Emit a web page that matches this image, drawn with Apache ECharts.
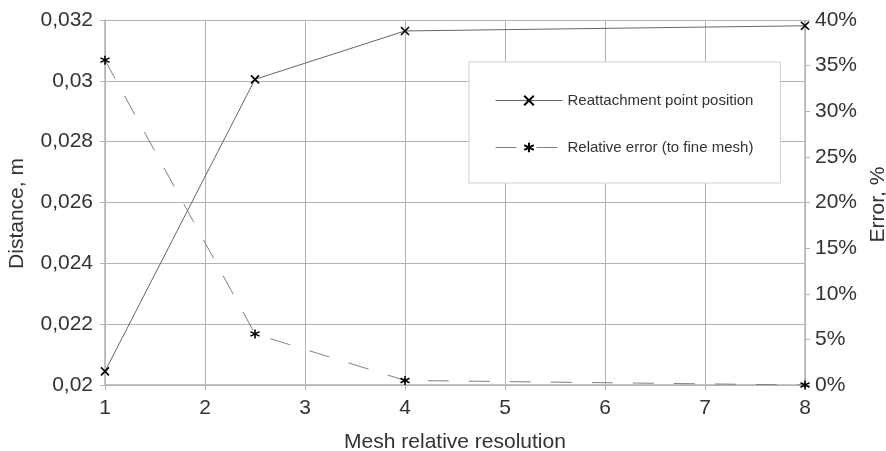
<!DOCTYPE html>
<html>
<head>
<meta charset="utf-8">
<script src="https://cdn.jsdelivr.net/npm/echarts@6/dist/echarts.min.js"></script>
<style>html,body{margin:0;padding:0;background:#fff}#c{width:886px;height:451px}</style>
</head>
<body>
<div id="c"></div>
<script>
const meshRes = [1, 2.5, 4, 8];
const distance = [0.02045, 0.03005, 0.03164, 0.03181];
const errorPct = [35.6, 5.6, 0.5, 0];
const seriesNames = ['Reattachment point position', 'Relative error (to fine mesh)'];
const xTitle = 'Mesh relative resolution';
const yLeftTitle = 'Distance, m';
const yRightTitle = 'Error, %';

const FONT = '"Liberation Sans", Arial, sans-serif';
const TXT = '#333';
const GRID = '#b3b3b3';

const chart = echarts.init(document.getElementById('c'), null, {renderer: 'canvas'});
const crossSym = 'path://M0,0L10,10M10,0L0,10';
const starSym = 'path://M5,0L5,10M0,2.5L10,7.5M0,7.5L10,2.5';

chart.setOption({
  animation: false,
  backgroundColor: '#fff',
  grid: {left: 105, right: 81, top: 20, bottom: 66, containLabel: false, outerBoundsMode: 'none'},
  legend: {
    orient: 'vertical',
    left: 469, top: 62,
    padding: [31, 27, 28, 26],
    itemGap: 32,
    itemWidth: 67, itemHeight: 12,
    backgroundColor: '#fff',
    borderColor: '#d0d0d0', borderWidth: 1,
    lineStyle: {width: 1},
    textStyle: {fontFamily: FONT, fontSize: 15, color: TXT},
    data: seriesNames
  },
  xAxis: {
    type: 'value', min: 1, max: 8, interval: 1,
    name: xTitle, nameLocation: 'middle', nameGap: 47,
    nameTextStyle: {fontFamily: FONT, fontSize: 21, color: TXT},
    axisLine: {show: true, lineStyle: {color: GRID, width: 1.5}},
    axisTick: {show: true, length: 5, lineStyle: {color: GRID}},
    axisLabel: {fontFamily: FONT, fontSize: 21, color: TXT, margin: 13},
    splitLine: {show: true, lineStyle: {color: GRID, width: 1}}
  },
  yAxis: [{
    type: 'value', min: 0.02, max: 0.032, interval: 0.002,
    name: yLeftTitle, nameLocation: 'middle', nameGap: 77, nameRotate: 90,
    nameTextStyle: {fontFamily: FONT, fontSize: 21, color: TXT, padding: [0, 22, 0, 0]},
    axisLine: {show: true, lineStyle: {color: GRID, width: 1.5}},
    axisTick: {show: true, length: 5, lineStyle: {color: GRID}},
    axisLabel: {fontFamily: FONT, fontSize: 21, color: TXT, margin: 12,
      formatter: v => String(+v.toFixed(4)).replace('.', ',')},
    splitLine: {show: true, lineStyle: {color: GRID, width: 1}}
  }, {
    type: 'value', min: 0, max: 40, interval: 5, position: 'right',
    name: yRightTitle, nameLocation: 'middle', nameGap: 56, nameRotate: 90,
    nameTextStyle: {fontFamily: FONT, fontSize: 21, color: TXT, padding: [0, 4, 0, 0]},
    axisLine: {show: true, lineStyle: {color: GRID, width: 1.5}},
    axisTick: {show: true, length: 5, lineStyle: {color: GRID}},
    axisLabel: {fontFamily: FONT, fontSize: 21, color: TXT, margin: 10, formatter: '{value}%'},
    splitLine: {show: false}
  }],
  series: [{
    name: seriesNames[0], type: 'line', yAxisIndex: 0,
    data: meshRes.map((x, i) => [x, distance[i]]),
    symbol: crossSym, symbolSize: [8, 8],
    lineStyle: {color: '#666', width: 1},
    itemStyle: {color: '#000', borderColor: '#000', borderWidth: 1.6},
    emphasis: {disabled: true}
  }, {
    name: seriesNames[1], type: 'line', yAxisIndex: 1,
    data: meshRes.map((x, i) => [x, errorPct[i]]),
    symbol: starSym, symbolSize: [9, 9],
    lineStyle: {color: '#808080', width: 1, type: [21, 20]},
    itemStyle: {color: '#000', borderColor: '#000', borderWidth: 1.6},
    emphasis: {disabled: true}
  }]
});
</script>
</body>
</html>
